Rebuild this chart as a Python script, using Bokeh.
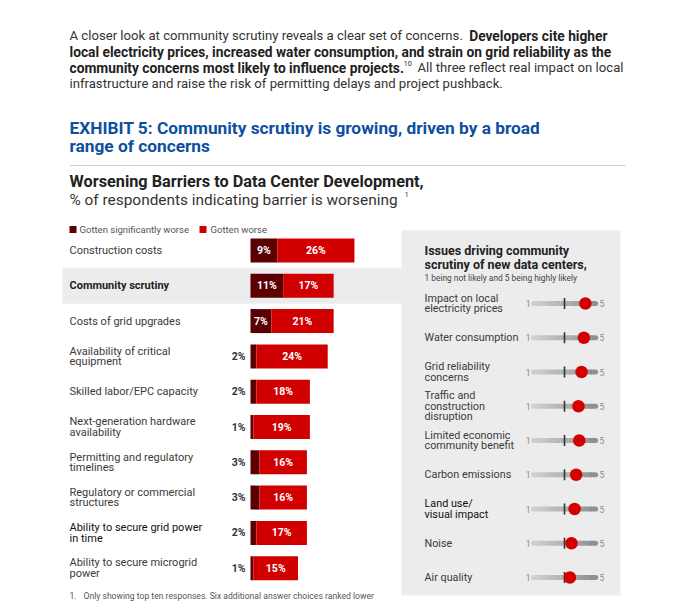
from bokeh.plotting import figure
from bokeh.models import Range1d
from bokeh.embed import file_html
from bokeh.resources import INLINE
from bokeh.core.properties import value

# ---------------- data ----------------
barriers = [
    "Construction costs",
    "Community scrutiny",
    "Costs of grid upgrades",
    "Availability of critical\nequipment",
    "Skilled labor/EPC capacity",
    "Next-generation hardware\navailability",
    "Permitting and regulatory\ntimelines",
    "Regulatory or commercial\nstructures",
    "Ability to secure grid power\nin time",
    "Ability to secure microgrid\npower",
]
sig_worse = [9, 11, 7, 2, 2, 1, 3, 3, 2, 1]
worse = [26, 17, 21, 24, 18, 19, 16, 16, 17, 15]

issues = [
    "Impact on local\nelectricity prices",
    "Water consumption",
    "Grid reliability\nconcerns",
    "Traffic and\nconstruction\ndisruption",
    "Limited economic\ncommunity benefit",
    "Carbon emissions",
    "Land use/\nvisual impact",
    "Noise",
    "Air quality",
]
scores = [4.35, 4.25, 4.1, 3.9, 3.95, 3.75, 3.65, 3.45, 3.35]
scale_min, scale_mid, scale_max = 1, 3, 5

legend_labels = ["Gotten significantly worse", "Gotten worse"]

# ---------------- style ----------------
FONT = "Roboto"
W, H = 680, 613
DARK = "#5a0000"
RED = "#d10000"
BLUE = "#0d4f9f"
TXT = "#333333"

p = figure(width=W, height=H, output_backend="svg", toolbar_location=None,
           x_range=Range1d(0, W), y_range=Range1d(H, 0),
           x_axis_location=None, y_axis_location=None, min_border=0,
           outline_line_color=None, background_fill_color="white")
p.grid.visible = False

# bar scale: 0% at px 250, 2.97 px per %
BX0, PPP = 250.0, 2.97
p.extra_x_ranges["pct"] = Range1d(-BX0 / PPP, (W - BX0) / PPP)
R0, RSTEP = 250.0, 35.3
p.extra_y_ranges["rows"] = Range1d((H - R0) / RSTEP, -R0 / RSTEP)
# slider scale: 1 at px 533, 15.5 px per unit
SX1, SPU = 533.0, 15.5
p.extra_x_ranges["score"] = Range1d(scale_min - SX1 / SPU, scale_min + (W - SX1) / SPU)
S0, SSTEP = 303.0, 34.25
p.extra_y_ranges["srows"] = Range1d((H - S0) / SSTEP, -S0 / SSTEP)


def txt(x, y, s, size, color=TXT, bold=False, align="left", xr="default", yr="default",
        x_offset=0, y_offset=0):
    if not isinstance(x, list):
        x, y, s = [x], [y], [s]
    p.text(x=x, y=y, text=s, text_font=value(FONT), text_font_size=f"{size}px",
           text_color=color, text_font_style="bold" if bold else "normal",
           text_align=align, text_baseline="middle", x_range_name=xr, y_range_name=yr,
           x_offset=x_offset, y_offset=y_offset)


# ---------------- intro paragraph ----------------
PS, PB = 13.15, 13.75
txt(69, 35, "A closer look at community scrutiny reveals a clear set of concerns.", PS)
txt(607, 35, "Developers cite higher", PB, "#222", True, "right")
txt(69, 51, "local electricity prices, increased water consumption, and strain on grid reliability as the", PB, "#222", True)
txt(69, 67, "community concerns most likely to influence projects.", PB, "#222", True)
txt(403, 63, "10", 7.5)
txt(623, 67, "All three reflect real impact on local", PS, TXT, False, "right")
txt(69, 83, "infrastructure and raise the risk of permitting delays and project pushback.", PS)

# ---------------- exhibit title ----------------
txt(69, 127, "EXHIBIT 5: Community scrutiny is growing, driven by a broad", 17.3, BLUE, True)
txt(69, 145, "range of concerns", 17.3, BLUE, True)
p.segment(x0=[69], y0=[165], x1=[625], y1=[165], line_color="#cfcfcf", line_width=1)

txt(69, 181, "Worsening Barriers to Data Center Development,", 16.3, "#222", True)
txt(69, 199, "% of respondents indicating barrier is worsening", 15.4)
txt(404, 194, "1", 7.5)

# ---------------- legend ----------------
p.quad(left=[69, 199], right=[76, 206], top=[225.5, 225.5], bottom=[232.5, 232.5],
       fill_color=[DARK, RED], line_color=None)
txt([79, 210], [229, 229], legend_labels, 9.5, "#555")

# ---------------- highlight band & right panel ----------------
hi = barriers.index("Community scrutiny")
p.quad(left=[62], right=[401], top=[hi - 0.51], bottom=[hi + 0.51], fill_color="#ececec",
       line_color=None, y_range_name="rows")
p.quad(left=[401], right=[620], top=[230], bottom=[595], fill_color="#ececec", line_color=None)

# ---------------- bars ----------------
idx = list(range(len(barriers)))
tot = [a + b for a, b in zip(sig_worse, worse)]
BH = 24 / RSTEP
p.hbar(y=idx, left=0, right=sig_worse, height=BH, fill_color=DARK, line_color=None,
       x_range_name="pct", y_range_name="rows")
p.hbar(y=idx, left=sig_worse, right=tot, height=BH, fill_color=RED, line_color=None,
       x_range_name="pct", y_range_name="rows")

in_x, in_y, in_t, out_y, out_t = [], [], [], [], []
for i, (a, b) in enumerate(zip(sig_worse, worse)):
    if a >= 5:
        in_x.append(a / 2); in_y.append(i); in_t.append(f"{a}%")
    else:
        out_y.append(i); out_t.append(f"{a}%")
    in_x.append(a + b / 2); in_y.append(i); in_t.append(f"{b}%")
txt(in_x, in_y, in_t, 10.5, "white", True, "center", "pct", "rows")
txt([0] * len(out_y), out_y, out_t, 10.5, "#333", True, "right", "pct", "rows", x_offset=-5)

# category labels
LH = 10.6
for i, lab in enumerate(barriers):
    lines = lab.split("\n")
    n = len(lines)
    for k, ln in enumerate(lines):
        y = i + (k - (n - 1) / 2) * LH / RSTEP
        bold = lab == "Community scrutiny"
        col = "#111" if lab.startswith("Ability to secure grid") else "#3a3a3a"
        p.text(x=[69], y=[y], text=[ln], text_font=value(FONT), text_font_size="11px",
               text_color="#222" if bold else col, text_font_style="bold" if bold else "normal",
               text_baseline="middle", y_range_name="rows")

# ---------------- right panel content ----------------
txt(424, 250, "Issues driving community", 12.5, "#222", True)
txt(424, 264, "scrutiny of new data centers,", 12.5, "#222", True)
txt(424, 277, "1 being not likely and 5 being highly likely", 8.4, "#444")

sidx = list(range(len(issues)))
# track with gradient
NSEG = 16
grad0, grad1 = (0xd2, 0xd2, 0xd2), (0x8e, 0x8e, 0x8e)
for j in range(NSEG):
    t = (j + 0.5) / NSEG
    c = tuple(int(g0 + (g1 - g0) * t) for g0, g1 in zip(grad0, grad1))
    col = "#%02x%02x%02x" % c
    a = scale_min + (scale_max - scale_min) * j / NSEG
    b = scale_min + (scale_max - scale_min) * (j + 1) / NSEG
    cap = "round" if j in (0, NSEG - 1) else "butt"
    p.segment(x0=[a] * len(sidx), y0=sidx, x1=[b + 0.01] * len(sidx), y1=sidx,
              line_color=col, line_width=5, line_cap=cap,
              x_range_name="score", y_range_name="srows")
th = 5.5 / SSTEP
p.segment(x0=[scale_mid] * len(sidx), y0=[i - th for i in sidx], x1=[scale_mid] * len(sidx),
          y1=[i + th for i in sidx], line_color="#333", line_width=1.6,
          x_range_name="score", y_range_name="srows")
p.scatter(x=scores, y=sidx, size=12.5, fill_color="#d40000", line_color=None,
          x_range_name="score", y_range_name="srows")
txt([scale_min] * len(sidx), sidx, [str(scale_min)] * len(sidx), 8.5, "#888", False, "right",
    "score", "srows", x_offset=-3)
txt([scale_max] * len(sidx), sidx, [str(scale_max)] * len(sidx), 8.5, "#888", False, "left",
    "score", "srows", x_offset=4)

SLH = 10.4
for i, lab in enumerate(issues):
    lines = lab.split("\n")
    n = len(lines)
    dark = lab.startswith("Land use")
    for k, ln in enumerate(lines):
        p.text(x=[424], y=[i + (k - (n - 1) / 2) * SLH / SSTEP], text=[ln],
               text_font=value(FONT), text_font_size="10.8px",
               text_color="#111" if dark else "#3a3a3a", text_baseline="middle",
               y_range_name="srows")

# ---------------- footnote ----------------
txt(69, 595, "1.", 8.6, "#555")
txt(83, 595, "Only showing top ten responses. Six additional answer choices ranked lower", 8.6, "#555")

open("out.html", "w").write(file_html(p, INLINE))
